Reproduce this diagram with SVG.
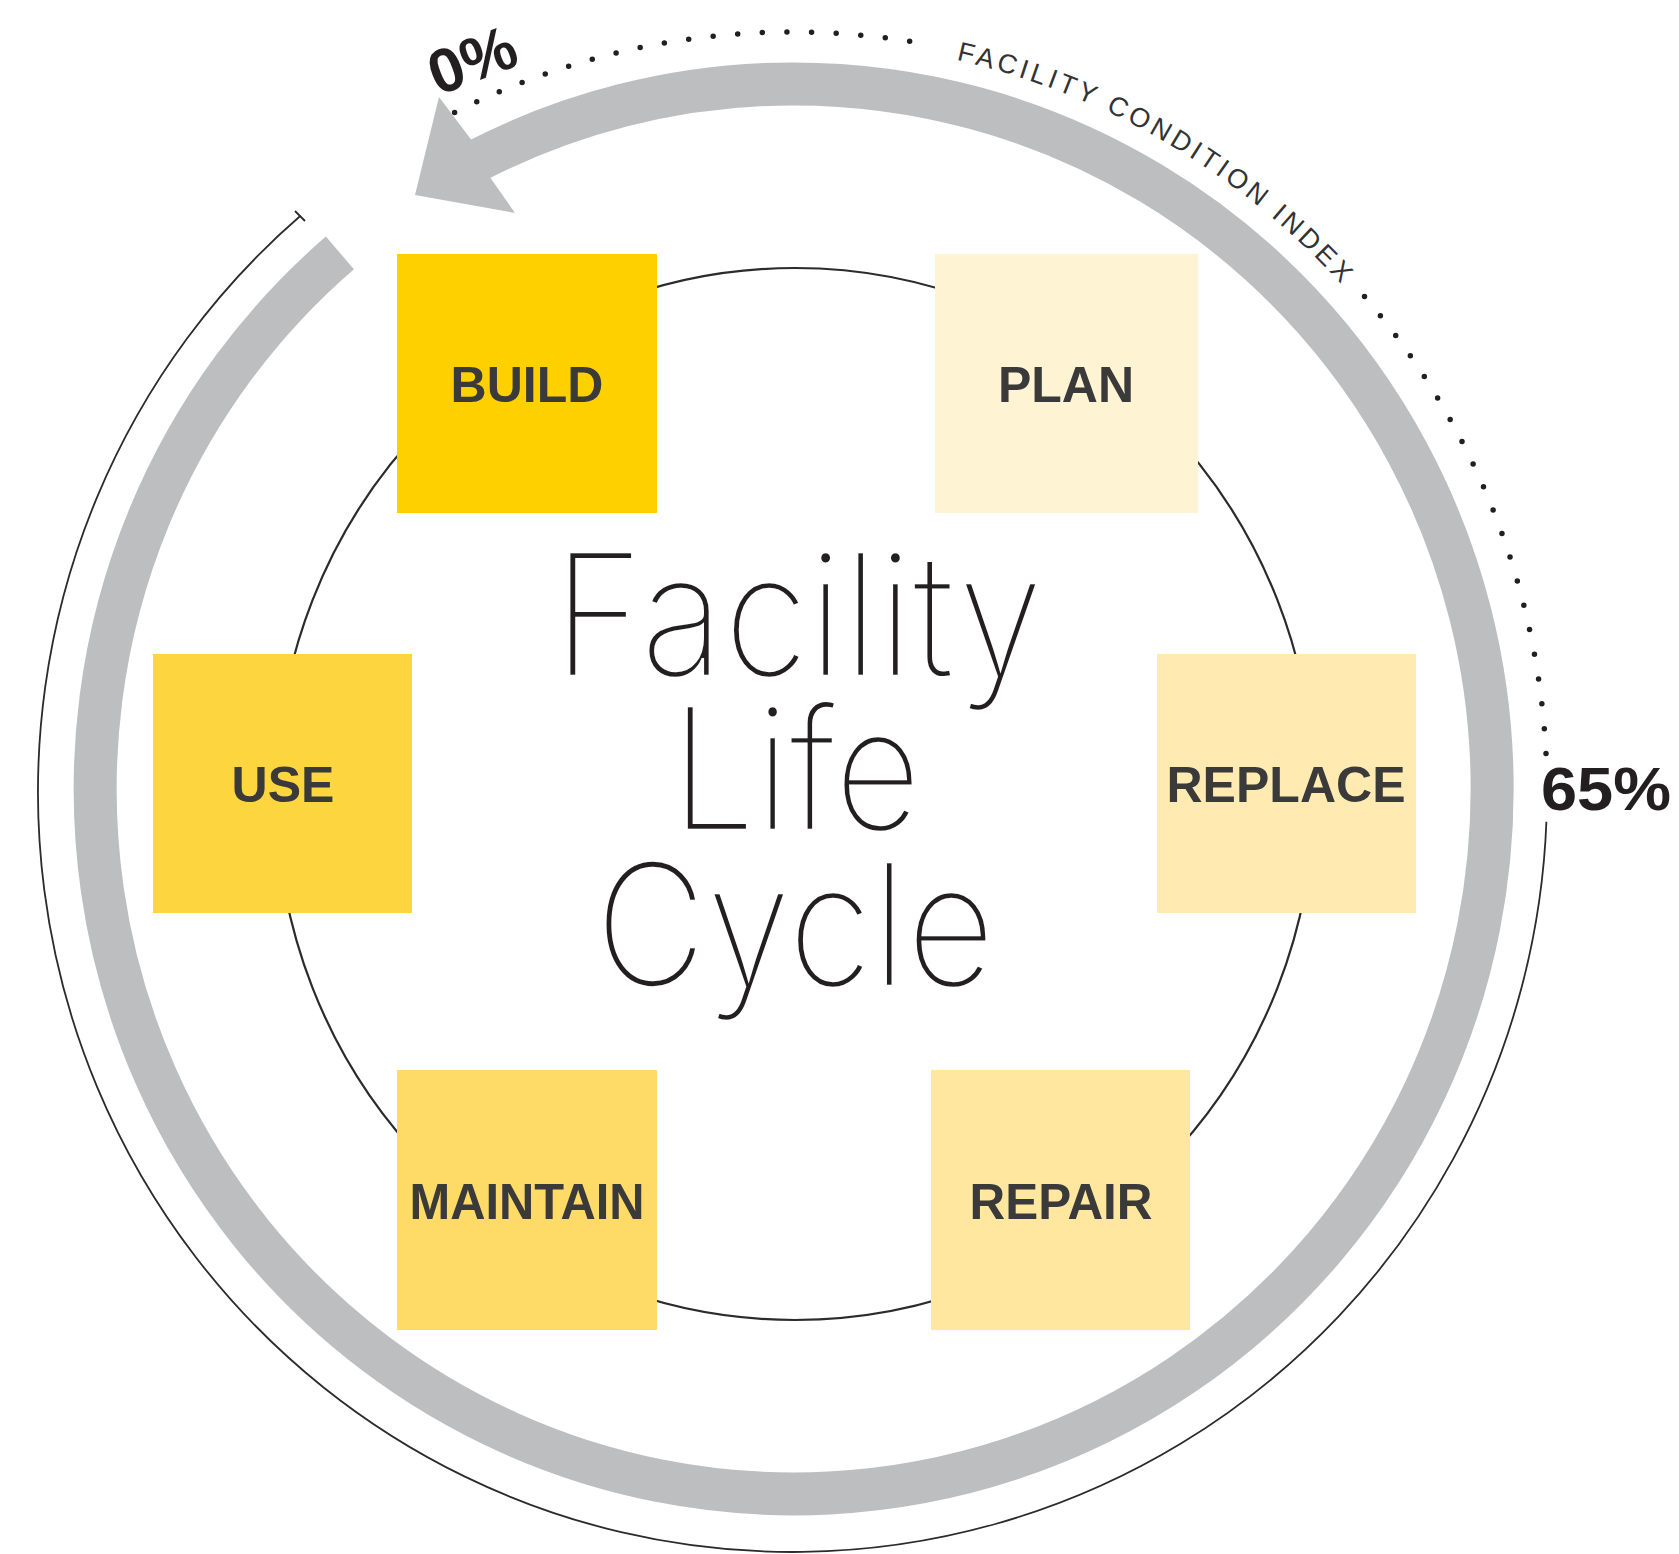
<svg xmlns="http://www.w3.org/2000/svg" width="1679" height="1554" viewBox="0 0 1679 1554">
<defs>
<style>
.ring{fill:none;stroke:#BCBEC0;stroke-width:43;stroke-linecap:butt}
.thin{fill:none;stroke:#2b2b2b;stroke-width:1.8}
.inner{fill:none;stroke:#2b2b2b;stroke-width:2.2}
.dots{fill:none;stroke:#231f20;stroke-width:5.5;stroke-linecap:round;stroke-dasharray:0 1}
.lbl{font-family:"Liberation Sans",Arial,sans-serif;font-weight:bold;font-size:50px;fill:#3a3a3a;text-anchor:middle}
.pct{font-family:"Liberation Sans",Arial,sans-serif;font-weight:bold;fill:#231f20}
.title{font-family:Inter,Roboto,"Open Sans",sans-serif;font-weight:200;font-size:170px;fill:#231f20;text-anchor:middle;stroke:#ffffff;stroke-width:2.4;paint-order:fill stroke}
.arc{font-family:"Liberation Sans",Arial,sans-serif;font-size:27px;fill:#333}
</style>
<path id="fciPath" d="M 956.3 59.9 A 745 750.5 0 0 1 1437.7 416.7"/>
</defs>
<rect width="1679" height="1554" fill="#ffffff"/>
<g id="connectors">
  <ellipse class="inner" cx="795" cy="794" rx="519" ry="526"/>
  <path class="ring" d="M 339.9 252.9 A 698.5 705 0 1 0 476.4 160.8"/>
  <polygon points="471.1,139.4 439,97 415,195 515,213 490.3,177.8" fill="#BCBEC0"/>
  <path class="thin" d="M 300.5 215.8 A 754.5 760 0 1 0 1546.4 821.8"/>
  <line x1="295" y1="211" x2="305" y2="221" stroke="#2b2b2b" stroke-width="1.8"/>
  <path class="dots" pathLength="20" d="M 454.6 112.4 A 754.5 760 0 0 1 933.9 45.5"/>
  <path class="dots" pathLength="20" d="M 1364.5 296.4 A 754.5 760 0 0 1 1546 753.6"/>
</g>
<g id="labels">
  <text class="arc"><textPath href="#fciPath" textLength="452" lengthAdjust="spacing">FACILITY CONDITION INDEX</textPath></text>
  <text class="pct" font-size="62" x="438" y="96" transform="rotate(-21 438 96)">0%</text>
  <text class="pct" font-size="62" x="1541" y="810" textLength="130" lengthAdjust="spacingAndGlyphs">65%</text>
</g>
<g id="title">
  <text class="title"><tspan x="798" y="676" textLength="490" lengthAdjust="spacingAndGlyphs">Facility</tspan><tspan x="796" y="830" textLength="250" lengthAdjust="spacingAndGlyphs">Life</tspan><tspan x="795" y="986" textLength="400" lengthAdjust="spacingAndGlyphs">Cycle</tspan></text>
</g>
<g id="node-build">
  <rect x="397" y="254" width="260" height="259" fill="#FFD000"/>
  <text class="lbl" x="527" y="402">BUILD</text>
</g>
<g id="node-plan">
  <rect x="935" y="254" width="263" height="259" fill="#FEF3D2"/>
  <text class="lbl" x="1066" y="402">PLAN</text>
</g>
<g id="node-use">
  <rect x="153" y="654" width="259" height="259" fill="#FDD63F"/>
  <text class="lbl" x="283" y="802">USE</text>
</g>
<g id="node-replace">
  <rect x="1157" y="654" width="259" height="259" fill="#FFEBB2"/>
  <text class="lbl" x="1286" y="802" textLength="239" lengthAdjust="spacingAndGlyphs">REPLACE</text>
</g>
<g id="node-maintain">
  <rect x="397" y="1070" width="260" height="260" fill="#FEDA66"/>
  <text class="lbl" x="527" y="1219" textLength="235" lengthAdjust="spacingAndGlyphs">MAINTAIN</text>
</g>
<g id="node-repair">
  <rect x="931" y="1070" width="259" height="260" fill="#FFE7A0"/>
  <text class="lbl" x="1061" y="1219" textLength="183" lengthAdjust="spacingAndGlyphs">REPAIR</text>
</g>
</svg>
